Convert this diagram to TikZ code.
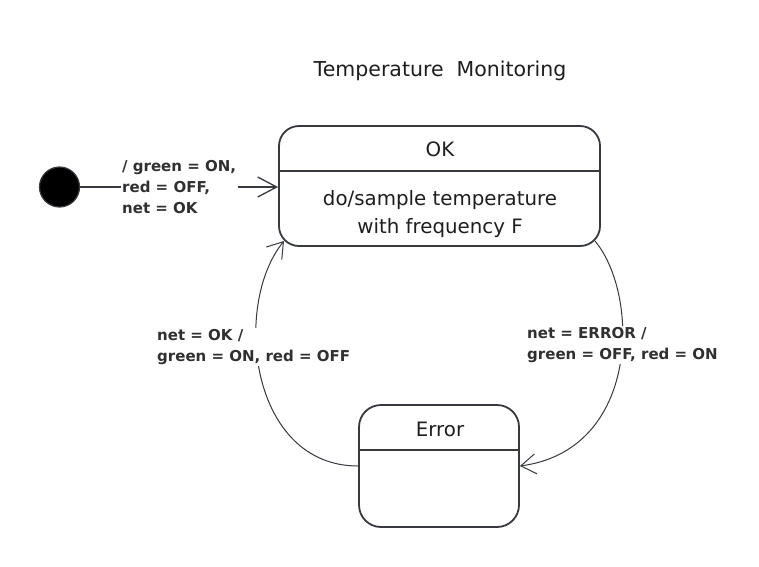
\documentclass[tikz,border=0pt]{standalone}
\usepackage{fontspec}
\setmainfont{DejaVu Sans}
\usetikzlibrary{arrows.meta,calc}
\definecolor{ink}{HTML}{363940}
\definecolor{txt}{HTML}{1E1E1E}
\definecolor{lbl}{HTML}{303030}
\begin{document}
\begin{tikzpicture}[x=1pt,y=-1pt,
  statebox/.style={draw=ink,line width=1.8pt,inner sep=0pt},
  divider/.style={draw=ink,line width=1.8pt},
  stname/.style={text=txt,font=\fontsize{19.8}{28}\selectfont,inner sep=0pt},
  edgelbl/.style={text=lbl,font=\fontsize{15}{21.2}\selectfont\bfseries,align=left,fill=white,inner sep=1.5pt},
  trans/.style={draw=ink,line width=1pt,-{Straight Barb[length=15pt,width=20pt,line width=1pt]}},
  initline/.style={draw=ink,line width=1.5pt,-{Straight Barb[length=19pt,width=20pt,line width=1.3pt]}}]
\useasboundingbox[fill=white] (0,0) rectangle (759,566);

% title
\node[text=txt,font=\fontsize{20.5}{24}\selectfont,inner sep=0pt] (title) at (440,71) {Temperature\ \ Monitoring};

% OK state
\node[statebox,rounded corners=20pt,minimum width=321pt,minimum height=120pt] (ok) at (439.5,186) {};
\draw[divider] (ok.west |- 0,171) -- (ok.east |- 0,171);
\node[stname] (okname) at (440,149) {OK};
\node[stname,align=center] (okdo) at (440,214) {do/sample temperature\\with frequency F};

% Error state
\node[statebox,rounded corners=22pt,minimum width=160pt,minimum height=122pt] (err) at (439,466) {};
\draw[divider] (err.west |- 0,450) -- (err.east |- 0,450);
\node[stname] (errname) at (440,429) {Error};

% initial pseudo-state
\node[circle,fill=black,draw=ink,line width=1.2pt,minimum size=40pt,inner sep=0pt] (init) at (59.5,187) {};
\draw[initline] (init.east) -- (init -| ok.west);
\node[edgelbl,anchor=west] (initlbl) at (120.5,187) {/ green = ON,\\red = OFF,\\net = OK};

% corner points of OK
\coordinate (oksw) at ($(ok.south west)+(5.9,-5.9)$);
\coordinate (okse) at ($(ok.south east)+(-5.9,-5.9)$);

% Error -> OK
\draw[trans] (err.west) .. controls (250,466) and (232,305) .. (oksw);
\node[edgelbl,anchor=west] (backlbl) at (155.5,347) {net = OK /\\green = ON, red = OFF};

% OK -> Error
\draw[trans] (okse) .. controls (640,295) and (640,450) .. (err.east);
\node[edgelbl,anchor=west] (fwdlbl) at (525.5,345) {net = ERROR /\\green = OFF, red = ON};
\end{tikzpicture}
\end{document}
